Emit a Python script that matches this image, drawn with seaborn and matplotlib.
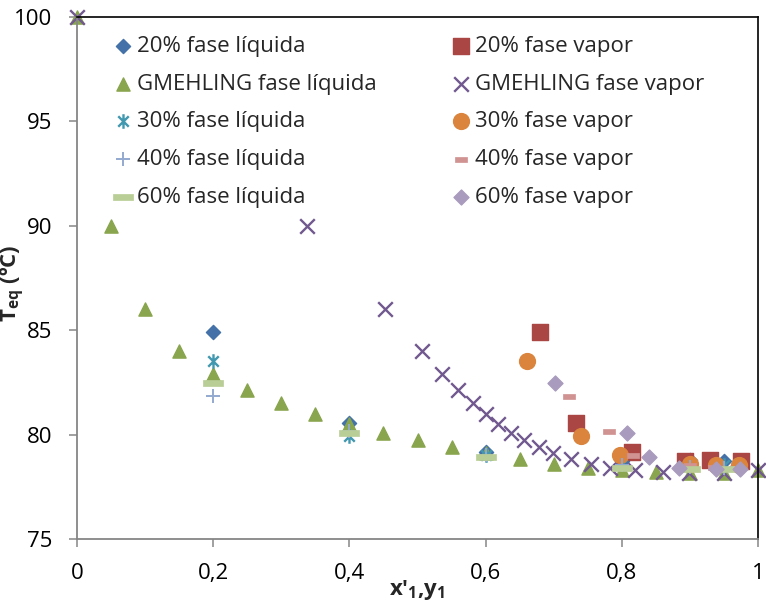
import matplotlib
matplotlib.use("Agg")
import matplotlib.pyplot as plt
from matplotlib.path import Path
import pandas as pd
import seaborn as sns

# --- Gmehling reference data (liquid x'1, vapour y1, equilibrium temperature) ---
gm_x_liq = [0.0, 0.05, 0.10, 0.15, 0.20, 0.25, 0.30, 0.35, 0.40, 0.45, 0.50,
            0.55, 0.60, 0.65, 0.70, 0.75, 0.80, 0.85, 0.90, 0.95, 1.0]
gm_T = [100.0, 90.0, 86.0, 84.0, 82.9, 82.15, 81.5, 81.0, 80.5, 80.1, 79.75,
        79.4, 79.1, 78.85, 78.6, 78.4, 78.3, 78.2, 78.15, 78.15, 78.3]
gm_y_vap = [0.0, 0.338, 0.452, 0.506, 0.536, 0.559, 0.581, 0.600, 0.618, 0.638, 0.656,
            0.678, 0.699, 0.726, 0.755, 0.783, 0.819, 0.861, 0.898, 0.950, 1.0]

# --- experimental runs: liquid composition is common to all runs ---
x_liq = [0.2, 0.4, 0.6, 0.8, 0.9, 0.95]

T_20 = [84.9, 80.55, 79.17, 78.72, 78.78, 78.72]
y_20 = [0.680, 0.733, 0.815, 0.893, 0.930, 0.975]

T_30 = [83.52, 79.95, 79.04, 78.6, 78.56, 78.56]
y_30 = [0.661, 0.740, 0.797, 0.900, 0.938, 0.972]

T_40 = [81.85, 80.16, 79.04, 78.56, 78.45, 78.4]
y_40 = [0.722, 0.781, 0.816, 0.900, 0.935, 0.967]

T_60 = [82.47, 80.08, 78.95, 78.4, 78.35, 78.35]
y_60 = [0.7025, 0.807, 0.840, 0.884, 0.938, 0.9735]

x_ticks = [0, 0.2, 0.4, 0.6, 0.8, 1.0]
x_tick_labels = ["0", "0,2", "0,4", "0,6", "0,8", "1"]
y_ticks = [75, 80, 85, 90, 95, 100]

sns.set_theme(style="white")
plt.rcParams["font.family"] = ["Open Sans", "DejaVu Sans"]
plt.rcParams["mathtext.fontset"] = "custom"
plt.rcParams["mathtext.rm"] = "Open Sans"
plt.rcParams["mathtext.bf"] = "Open Sans:bold"

# custom marker shapes
asterisk = Path([(0, -1), (0, 1), (-0.72, -0.72), (0.72, 0.72), (-0.72, 0.72), (0.72, -0.72)],
                [Path.MOVETO, Path.LINETO, Path.MOVETO, Path.LINETO, Path.MOVETO, Path.LINETO])
def bar(h):
    return Path([(-1, -h), (1, -h), (1, h), (-1, h), (-1, -h)],
                [Path.MOVETO, Path.LINETO, Path.LINETO, Path.LINETO, Path.CLOSEPOLY])

fig = plt.figure(figsize=(7.66, 6.03), dpi=100)
ax = fig.add_axes([0.1005, 0.1061, 0.8891, 0.8657])

series = [
    ("20% fase líquida", x_liq, T_20, "D", 52, "#4472A8", 1.0),
    ("20% fase vapor", y_20, T_20, "s", 120, "#AA4643", 1.0),
    ("GMEHLING fase líquida", gm_x_liq, gm_T, "^", 90, "#89A54E", 1.0),
    ("GMEHLING fase vapor", gm_y_vap, gm_T, "x", 110, "#71588F", 1.7),
    ("30% fase líquida", x_liq, T_30, asterisk, 110, "#4198AF", 1.7),
    ("30% fase vapor", y_30, T_30, "o", 130, "#DB843D", 1.0),
    ("40% fase líquida", x_liq, T_40, "+", 90, "#93A9CF", 1.4),
    ("40% fase vapor", y_40, T_40, bar(0.45), 64, "#D19392", 0.5),
    ("60% fase líquida", x_liq, T_60, bar(0.3), 205, "#B9CD96", 0.5),
    ("60% fase vapor", y_60, T_60, "D", 58, "#A99BBD", 1.0),
]

handles = {}
for label, xs, ts, marker, size, color, lw in series:
    df = pd.DataFrame({"x": xs, "T": ts})
    before = len(ax.collections)
    sns.scatterplot(data=df, x="x", y="T", marker=marker, s=size, color=color,
                    edgecolor=color, linewidth=lw, ax=ax, label=label,
                    clip_on=False, legend=False)
    handles[label] = ax.collections[before]

ax.set_xlim(0, 1)
ax.set_ylim(75, 100)
ax.set_xticks(x_ticks)
ax.set_xticklabels(x_tick_labels)
ax.set_yticks(y_ticks)

for s in ("left", "bottom"):
    ax.spines[s].set_color("#868686")
    ax.spines[s].set_linewidth(1.3)
for s in ("top", "right"):
    ax.spines[s].set_color("black")
    ax.spines[s].set_linewidth(1.2)
    ax.spines[s].set_visible(True)

ax.tick_params(axis="both", direction="out", length=6, width=1.1, color="#868686",
               labelsize=16, labelcolor="black")
ax.tick_params(axis="y", pad=12, left=True)
ax.tick_params(axis="x", pad=11, bottom=True)

ax.set_xlabel("x'$_{\\mathbf{1}}$,y$_{\\mathbf{1}}$", fontsize=16, fontweight="bold")
ax.set_ylabel("T$_{\\mathbf{eq}}$ (ºC)", fontsize=16, fontweight="bold")
ax.xaxis.set_label_coords(0.5, -0.075)
ax.yaxis.set_label_coords(-0.074, 0.49)

order = ["20% fase líquida", "GMEHLING fase líquida", "30% fase líquida",
         "40% fase líquida", "60% fase líquida",
         "20% fase vapor", "GMEHLING fase vapor", "30% fase vapor",
         "40% fase vapor", "60% fase vapor"]
ax.legend([handles[k] for k in order], order, ncol=2, frameon=False,
          loc="upper left", bbox_to_anchor=(114 / 766, 1 - 36 / 603),
          bbox_transform=fig.transFigure, borderpad=0, borderaxespad=0,
          handlelength=0.8, handletextpad=0.25, labelspacing=0.75,
          columnspacing=3.36, scatterpoints=1, fontsize=16)

fig.savefig("out.png", dpi=100)
